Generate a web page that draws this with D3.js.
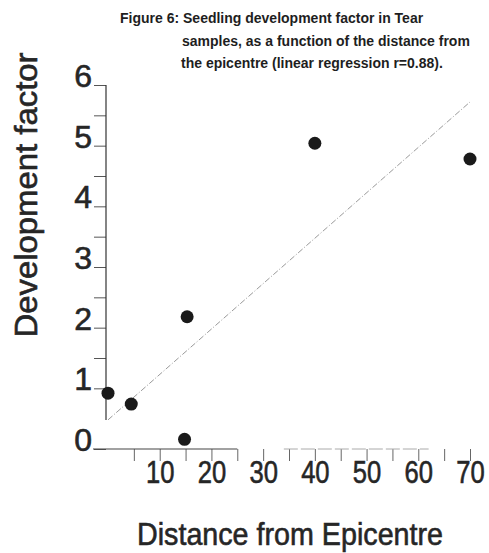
<!DOCTYPE html>
<html><head><meta charset="utf-8">
<script src="https://cdn.jsdelivr.net/npm/d3@7"></script>
<style>body{margin:0;background:#fff}svg{display:block}</style>
</head><body>
<script>
// ---- data ----
const distances = [0, 4.5, 14.8, 15.3, 40.0, 70.0];
const devFactor = [0.92, 0.74, 0.16, 2.18, 5.04, 4.78];
const trendX = [0, 70];
const trendY = [0.48, 5.72];
const xTickValues = [5,10,15,20,25,30,35,40,45,50,55,60,65,70];
const xTickLabels = [10,20,30,40,50,60,70];
const yTickValues = [0,1,1.5,2,2.5,3,3.5,4,4.5,5,5.5,6];
const yTickLabels = [0,1,2,3,4,5,6];
const titleLines = [
  "Figure 6: Seedling development factor in Tear",
  "samples, as a function of the distance from",
  "the epicentre (linear regression r=0.88)."
];
const xTitle = "Distance from Epicentre";
const yTitle = "Development factor";

// ---- chart ----
const W = 489, H = 553;
const ink = "#262626";
const font = "'Liberation Sans', Arial, Helvetica, sans-serif";
const svg = d3.select("body").append("svg").attr("width", W).attr("height", H);

const x = d3.scaleLinear().domain([0, 70]).range([108, 470]);
const y = d3.scaleLinear().domain([0, 6]).range([449, 85]);

// title (hanging indent)
const titleX = [120, 182, 181];
const titleY = [23, 45.5, 68];
svg.append("g").selectAll("text").data(titleLines).join("text")
  .attr("x", (d,i) => titleX[i]).attr("y", (d,i) => titleY[i])
  .attr("font-family", font)
  .attr("font-weight", "bold").attr("font-size", 14)
  .attr("fill", "#1e1e1e").text(d => d);

// y axis
const yAxis = d3.axisLeft(y).tickValues(yTickValues).tickSize(12)
  .tickFormat(d => yTickLabels.includes(d) ? d : "");
const gy = svg.append("g").attr("transform", "translate(106,0)").call(yAxis);
gy.select(".domain").remove();
gy.selectAll(".tick line").attr("stroke", "#555").attr("stroke-width", 1);
gy.selectAll(".tick text")
  .attr("x", -14).attr("dy", "0.05em")
  .attr("font-family", font)
  .attr("font-size", 32).attr("fill", ink)
  .attr("stroke", ink).attr("stroke-width", 0.6);
svg.append("line")
  .attr("x1", 106).attr("x2", 106)
  .attr("y1", y(6)).attr("y2", y(trendY[0]))
  .attr("stroke", "#333").attr("stroke-width", 1.2);

// x axis
const xAxis = d3.axisBottom(x).tickValues(xTickValues).tickSize(12)
  .tickFormat(d => xTickLabels.includes(d) ? d : "");
const gx = svg.append("g").attr("transform", "translate(0,449)").call(xAxis);
gx.select(".domain").remove();
gx.selectAll(".tick line").attr("stroke", "#666").attr("stroke-width", 1);
gx.selectAll(".tick text")
  .attr("y", 34).attr("dy", 0)
  .attr("font-family", font)
  .attr("font-size", 32).attr("fill", ink)
  .attr("stroke", ink).attr("stroke-width", 0.6)
  .attr("transform", "scale(0.8,1)");
svg.append("line")
  .attr("x1", 93).attr("x2", x(25))
  .attr("y1", 449).attr("y2", 449)
  .attr("stroke", "#444").attr("stroke-width", 1.1);
svg.append("line")
  .attr("x1", x(34)).attr("x2", x(62))
  .attr("y1", 449).attr("y2", 449)
  .attr("stroke", "#aaa").attr("stroke-width", 1)
  .attr("stroke-dasharray", "14,3");

// regression line
svg.append("line")
  .attr("x1", x(trendX[0])).attr("y1", y(trendY[0]))
  .attr("x2", x(trendX[1])).attr("y2", y(trendY[1]))
  .attr("stroke", "#9a9a9a").attr("stroke-width", 1)
  .attr("stroke-dasharray", "6,2,1,2");

// points
svg.append("g").selectAll("circle").data(distances).join("circle")
  .attr("cx", (d) => x(d)).attr("cy", (d,i) => y(devFactor[i]))
  .attr("r", 6.5).attr("fill", "#1a1a1a");

// axis titles
svg.append("text")
  .attr("transform", "translate(37,195) rotate(-90)")
  .attr("text-anchor", "middle")
  .attr("font-family", font)
  .attr("font-size", 32).attr("fill", ink)
  .attr("stroke", ink).attr("stroke-width", 0.6)
  .attr("textLength", 285).attr("lengthAdjust", "spacingAndGlyphs")
  .text(yTitle);
svg.append("text")
  .attr("x", 290).attr("y", 545)
  .attr("text-anchor", "middle")
  .attr("font-family", font)
  .attr("font-size", 32).attr("fill", ink)
  .attr("stroke", ink).attr("stroke-width", 0.6)
  .attr("textLength", 306).attr("lengthAdjust", "spacingAndGlyphs")
  .text(xTitle);
</script>
</body></html>
